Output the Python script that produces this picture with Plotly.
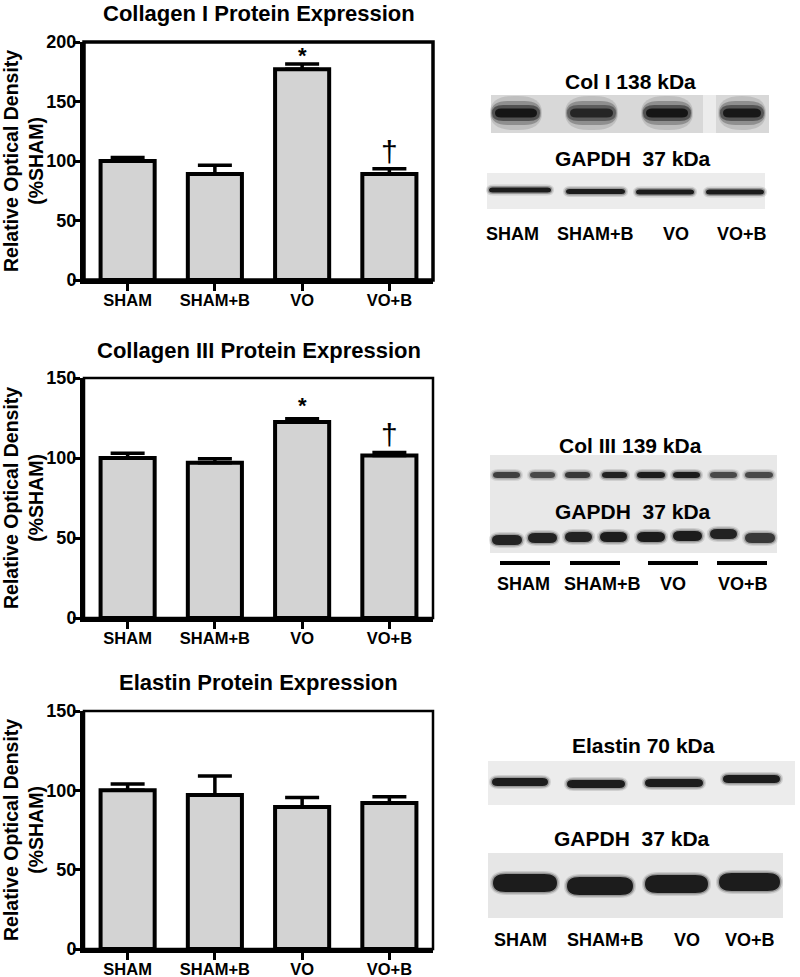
import plotly.graph_objects as go

W, H = 800, 977

# ---------------- data ----------------
groups = ["SHAM", "SHAM+B", "VO", "VO+B"]

col1_mean = [100, 89, 177, 89]
col1_sem = [3, 7.5, 4.5, 4.5]
col1_marks = ["", "", "*", "†"]

col3_mean = [100, 97, 122.5, 101.5]
col3_sem = [3, 2.5, 2, 2]
col3_marks = ["", "", "*", "†"]

elastin_mean = [100, 97, 89.5, 92]
elastin_sem = [4, 12, 6, 4]
elastin_marks = ["", "", "", ""]

titles = ["Collagen I Protein Expression",
          "Collagen III Protein Expression",
          "Elastin Protein Expression"]
y_max = [200, 150, 150]
y_ticks = [[0, 50, 100, 150, 200], [0, 50, 100, 150], [0, 50, 100, 150]]

blot_titles = [["Col I 138 kDa", "GAPDH\u00a0\u00a037 kDa"],
               ["Col III 139 kDa", "GAPDH\u00a0\u00a037 kDa"],
               ["Elastin 70 kDa", "GAPDH\u00a0\u00a037 kDa"]]
lane_labels = ["SHAM", "SHAM+B", "VO", "VO+B"]

# ---------------- layout geometry (pixels) ----------------
FONT = "Liberation Sans, Arial, sans-serif"
plot_x = (84, 433)
plot_y = [(42, 280), (378, 618), (711, 949)]
title_y = [13, 350, 682]
frame_w = [3.5, 2.5, 2.5]
star_shift = [-6, -1, -6]


def X(px):
    return px / W


def Y(py):
    return 1 - py / H


fig = go.Figure()

datasets = [(col1_mean, col1_sem, col1_marks),
            (col3_mean, col3_sem, col3_marks),
            (elastin_mean, elastin_sem, elastin_marks)]

annotations = []
shapes = []

for i, (mean, sem, marks) in enumerate(datasets):
    n = i + 1
    xa = "x" if n == 1 else f"x{n}"
    ya = "y" if n == 1 else f"y{n}"
    fig.add_trace(go.Bar(
        x=groups, y=mean, xaxis=xa, yaxis=ya, width=0.62,
        marker=dict(color="#d3d3d3", line=dict(color="black", width=4)),
        error_y=dict(type="data", symmetric=False, array=sem,
                     arrayminus=[0] * len(sem), color="black",
                     thickness=3.5, width=17),
        cliponaxis=False, showlegend=False, hoverinfo="skip"))
    top, bot = plot_y[i]
    fig.update_layout(**{
        ("xaxis" if n == 1 else f"xaxis{n}"): dict(
            domain=[X(plot_x[0]), X(plot_x[1])], anchor=ya, automargin=False,
            type="category", categoryorder="array", categoryarray=groups,
            range=[-0.5, 3.5], showline=True, linewidth=4, linecolor="black",
            ticks="outside", ticklen=7, tickwidth=3, tickcolor="black",
            ticklabelstandoff=-5,
            tickfont=dict(family=FONT, size=16.5, color="black", weight="bold"),
            showgrid=False, zeroline=False, fixedrange=True),
        ("yaxis" if n == 1 else f"yaxis{n}"): dict(
            domain=[Y(bot), Y(top)], anchor=xa, automargin=False,
            range=[0, y_max[i]], tickvals=y_ticks[i],
            showline=True, linewidth=4, linecolor="black",
            ticks="outside", ticklen=7, tickwidth=3, tickcolor="black",
            ticklabelstandoff=-7,
            tickfont=dict(family=FONT, size=18, color="black", weight="bold"),
            showgrid=False, zeroline=False, fixedrange=True),
    })
    # frame (top and right)
    shapes.append(dict(type="rect", xref=f"{xa} domain", yref=f"{ya} domain",
                       x0=0, x1=1, y0=0, y1=1,
                       line=dict(color="black", width=frame_w[i]), layer="above"))
    # title
    annotations.append(dict(text=f"<b>{titles[i]}</b>", xref="paper", yref="paper",
                            x=X((plot_x[0] + plot_x[1]) / 2), y=Y(title_y[i]),
                            xanchor="center", yanchor="middle", showarrow=False,
                            font=dict(family=FONT, size=22, color="black")))
    # y title
    annotations.append(dict(text="<b>Relative Optical Density<br>(%SHAM)</b>",
                            xref="paper", yref="paper", textangle=-90,
                            x=X(23), y=Y((top + bot) / 2),
                            xanchor="center", yanchor="middle", showarrow=False,
                            font=dict(family=FONT, size=19.5, color="black")))
    # significance marks
    for g, m, s, mk in zip(groups, mean, sem, marks):
        if not mk:
            continue
        if mk == "*":
            annotations.append(dict(text="<b>*</b>", xref=xa, yref=ya, x=g, y=m + s,
                                    xanchor="center", yanchor="bottom",
                                    yshift=star_shift[i],
                                    showarrow=False,
                                    font=dict(family=FONT, size=22, color="black")))
        else:
            annotations.append(dict(text=mk, xref=xa, yref=ya, x=g, y=m + s,
                                    xanchor="center", yanchor="bottom", yshift=-1,
                                    showarrow=False,
                                    font=dict(family=FONT, size=30, color="black")))


# ---------------- western blot panels (drawn as shapes) ----------------
def rect(x0, y0, x1, y1, color):
    shapes.append(dict(type="rect", xref="paper", yref="paper",
                       x0=X(x0), x1=X(x1), y0=Y(y1), y1=Y(y0),
                       fillcolor=color, line=dict(width=0), layer="below"))


def band(x0, x1, cy, h, color="#111111", opacity=1.0):
    y0, y1 = cy - h / 2, cy + h / 2
    r = min(h * 0.7, (x1 - x0) / 2)
    p = (f"M {X(x0 + r)},{Y(y0)} L {X(x1 - r)},{Y(y0)} "
         f"Q {X(x1)},{Y(y0)} {X(x1)},{Y(cy)} "
         f"Q {X(x1)},{Y(y1)} {X(x1 - r)},{Y(y1)} "
         f"L {X(x0 + r)},{Y(y1)} "
         f"Q {X(x0)},{Y(y1)} {X(x0)},{Y(cy)} "
         f"Q {X(x0)},{Y(y0)} {X(x0 + r)},{Y(y0)} Z")
    shapes.append(dict(type="path", path=p, xref="paper", yref="paper",
                       fillcolor=color, opacity=opacity, line=dict(width=0),
                       layer="below"))


def soft_band(x0, x1, cy, h, strength=1.0):
    band(x0 - 3, x1 + 3, cy, h + 6, "#555555", 0.18 * strength)
    band(x0 - 1.5, x1 + 1.5, cy, h + 3, "#333333", 0.35 * strength)
    band(x0, x1, cy, h, "#111111", 0.92 * strength)


def text(s, x, y, size):
    annotations.append(dict(text=f"<b>{s}</b>", xref="paper", yref="paper",
                            x=X(x), y=Y(y), xanchor="center", yanchor="middle",
                            showarrow=False,
                            font=dict(family=FONT, size=size, color="black")))


# --- Collagen I blot ---
text(blot_titles[0][0], 630, 81, 21)
rect(491, 95, 769, 133, "#d8d8d8")
rect(703, 95, 716, 133, "#ececec")
for (a, b), k in zip([(491, 541), (566, 617), (642, 692), (719, 765)], [1.0, 0.8, 1.0, 0.95]):
    band(a - 1, b + 1, 113, 34, "#9a9a9a", 0.4)
    band(a, b, 113, 24, "#555555", 0.45)
    band(a + 1, b - 1, 113, 16, "#2a2a2a", 0.6 * k)
    band(a + 4, b - 4, 113, 9, "#0a0a0a", 0.85 * k)
text(blot_titles[0][1], 633, 158, 21)
rect(487, 173, 765, 209, "#ececec")
for (a, b), cy in zip([(489, 551), (566, 625), (636, 694), (706, 764)], [190, 191.5, 192, 192]):
    soft_band(a, b, cy, 5)
for lab, x in zip(lane_labels, [512, 595, 676, 742]):
    text(lab, x, 234, 18)

# --- Collagen III blot ---
text(blot_titles[1][0], 630, 445, 21)
rect(490, 455, 777, 553, "#e8e8e8")
c3 = [(493, 520), (530, 555), (565, 590), (602, 627), (637, 665), (673, 700), (710, 737), (745, 773)]
c3k = [0.75, 0.7, 0.8, 0.95, 1.0, 1.0, 0.7, 0.7]
for (a, b), k in zip(c3, c3k):
    soft_band(a, b, 475, 6, k)
text(blot_titles[1][1], 633, 511, 21)
g3 = [(492, 522), (528, 557), (565, 592), (600, 627), (637, 665), (673, 702), (710, 737), (745, 775)]
g3y = [540, 538, 537, 537, 537, 536, 534, 538]
g3k = [0.95, 0.95, 0.95, 1.0, 1.0, 1.0, 0.95, 0.8]
for (a, b), cy, k in zip(g3, g3y, g3k):
    soft_band(a, b, cy, 10, k)
for a, b in [(500, 550), (570, 620), (648, 698), (717, 767)]:
    rect(a, 561, b, 565, "#000000")
for lab, x in zip(lane_labels, [523, 602, 673, 743]):
    text(lab, x, 584, 18)

# --- Elastin blot ---
text(blot_titles[2][0], 643, 745, 21)
rect(488, 761, 795, 805, "#ececec")
for (a, b), cy in zip([(492, 548), (567, 625), (645, 703), (723, 780)], [782, 784, 783, 779]):
    soft_band(a, b, cy, 8)
text(blot_titles[2][1], 632, 838, 21)
rect(488, 853, 783, 918, "#e6e6e6")
for (a, b), cy in zip([(493, 557), (567, 633), (645, 708), (719, 780)], [883, 886, 884, 882]):
    soft_band(a, b, cy, 18)
for lab, x in zip(lane_labels, [520, 605, 687, 750]):
    text(lab, x, 940, 18)

fig.update_layout(width=W, height=H, margin=dict(l=0, r=0, t=0, b=0),
                  paper_bgcolor="white", plot_bgcolor="white",
                  annotations=annotations, shapes=shapes, bargap=0.38)

fig.write_html("out.html",
               config={"displayModeBar": False},
               post_script="document.body.style.margin='0px';"
                           "document.body.style.padding='0px';"
                           "document.body.style.overflow='hidden';")
